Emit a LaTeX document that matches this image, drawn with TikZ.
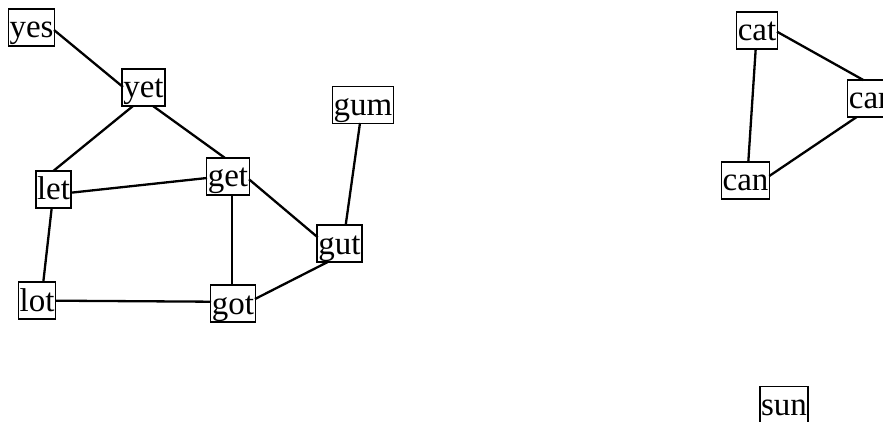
\documentclass[tikz,border=0pt]{standalone}
\usepackage{fontspec}
\setmainfont{Liberation Serif}
\usetikzlibrary{calc}
\begin{document}
\begin{tikzpicture}[x=1pt,y=-1pt,
  word/.style={draw, line width=1.5pt, rectangle, inner xsep=1.2pt, inner ysep=0pt,
    text height=29pt, text depth=8pt, font=\fontsize{33}{36}\selectfont},
  link/.style={line width=2.3pt}]
\clip (0,0) rectangle (883,422);
\useasboundingbox (0,0) rectangle (883,422);

% word nodes
\node[word] (yes) at (31.5,27.5) {yes};
\node[word] (yet) at (143.5,87.5) {yet};
\node[word] (let) at (53.5,189.5) {let};
\node[word] (get) at (228,176.5) {get};
\node[word] (gut) at (339.5,243.5) {gut};
\node[word] (lot) at (37,300.5) {lot};
\node[word] (got) at (233,303.5) {got};
\node[word] (gum) at (363,105) {gum};
\node[word] (cat) at (757,30.5) {cat};
\node[word] (car) at (869,98.5) {car};
\node[word] (can) at (745.5,180.5) {can};
\node[word] (sun) at (784,404.8) {sun};

% edges between words one letter apart
\draw[link] ($(yes)+(22.5,2.5)$) -- ($(yet)+(-20.5,-0.5)$);
\draw[link] ($(yet)+(-10.5,18.5)$) -- ($(let)+(-0.2,-18.5)$);
\draw[link] ($(yet)+(9.5,18.5)$) -- ($(get)+(-3,-18.5)$);
\draw[link] ($(let)+(17.5,3.2)$) -- ($(get)+(-21,1.5)$);
\draw[link] ($(let)+(-1.8,18.5)$) -- ($(lot)+(6.3,-18.5)$);
\draw[link] ($(get)+(4.3,18.5)$) -- ($(got)+(-0.7,-18.5)$);
\draw[link] ($(get)+(21,2.8)$) -- ($(gut)+(-21.8,-6.2)$);
\draw[link] ($(lot)+(19,0.2)$) -- ($(got)+(-22,-1.8)$);
\draw[link] ($(got)+(22,-4.5)$) -- ($(gut)+(-11.8,18.5)$);
\draw[link] ($(gut)+(6.2,-18.5)$) -- ($(gum)+(-3,18)$);
\draw[link] ($(cat)+(20,1.2)$) -- ($(car)+(-5.7,-18.5)$);
\draw[link] ($(cat)+(-1.3,18.5)$) -- ($(can)+(2.8,-18.5)$);
\draw[link] ($(can)+(23.8,-4.5)$) -- ($(car)+(-12.3,18.5)$);
\end{tikzpicture}
\end{document}
